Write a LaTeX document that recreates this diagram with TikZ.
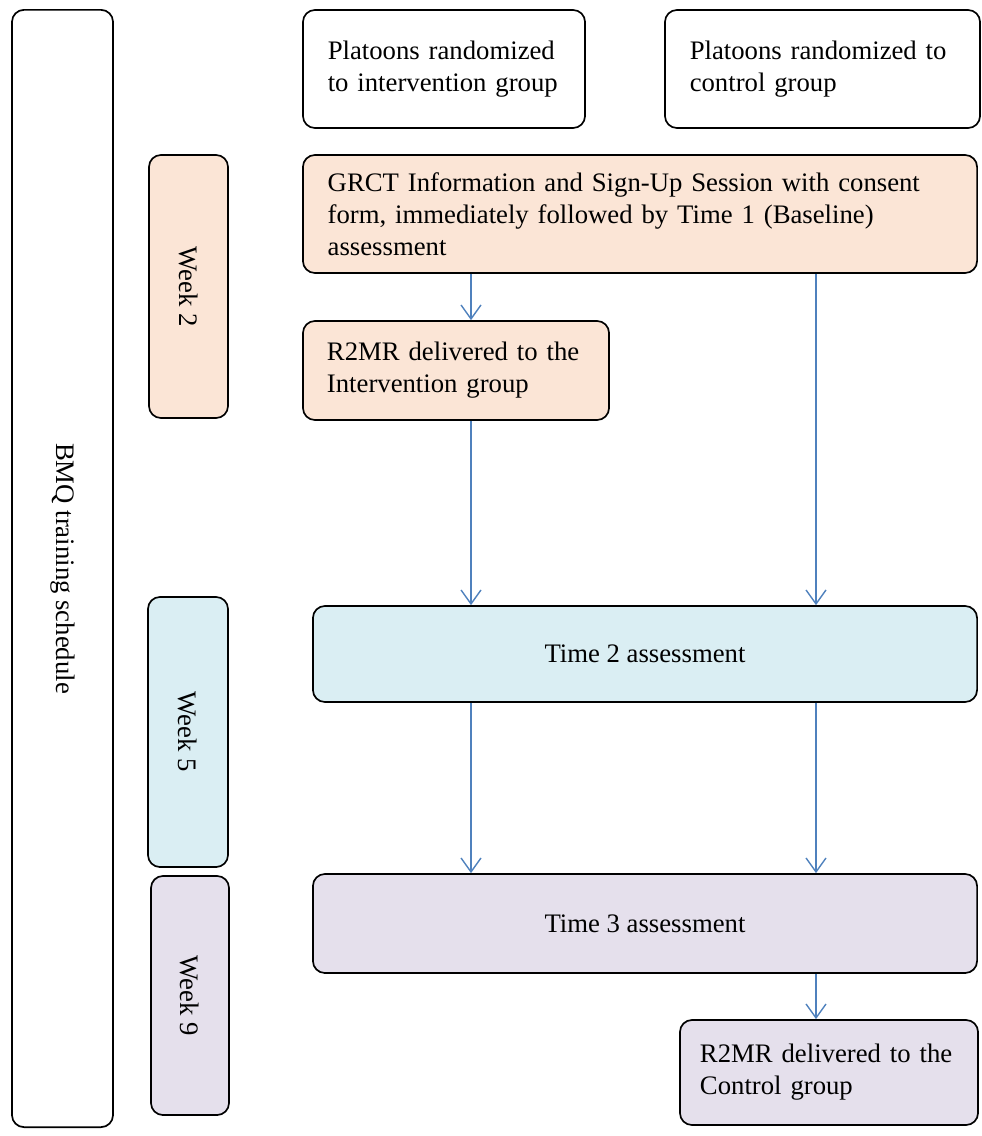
\documentclass[tikz,border=0pt]{standalone}
\usepackage{fontspec}
\setmainfont{Liberation Serif}
\usetikzlibrary{arrows.meta}

\definecolor{peach}{HTML}{FBE5D6}
\definecolor{paleblue}{HTML}{DAEEF3}
\definecolor{lavender}{HTML}{E5E0EC}
\definecolor{arrowblue}{HTML}{4F81BD}

\tikzstyle{box} = [
rectangle,
rounded corners=0.3cm,
draw=black,
line width=1.2pt,
inner sep=0pt,
font=\fontsize{19}{22.7}\selectfont
]
\tikzstyle{textbox} = [
box,
align=left,
inner xsep=0.62cm
]
\tikzstyle{centerbox} = [
box,
align=center
]
\tikzstyle{weekbox} = [
box,
rotate=-90,
align=center
]
\tikzstyle{arrow} = [
line width=1pt,
draw=arrowblue,
-{Straight Barb[length=0.35cm, width=0.5cm]}
]

\begin{document}
\begin{tikzpicture}[
x=0.025cm,
y=-0.025cm
]
\useasboundingbox (0,0) rectangle (981,1136);

% Schedule column
\node (bmq) [weekbox, minimum width=27.925cm, minimum height=2.525cm]
at (62.5,568.5) {BMQ training schedule};

\node (week2) [weekbox, fill=peach, minimum width=6.575cm, minimum height=1.975cm]
at (188.5,286.5) {Week 2};

\node (week5) [weekbox, fill=paleblue, minimum width=6.75cm, minimum height=2cm]
at (188,732) {Week 5};

\node (week9) [weekbox, fill=lavender, minimum width=5.975cm, minimum height=1.95cm]
at (190,995.5) {Week 9};

% Groups
\node (platI) [textbox, text width=5.81cm, minimum height=2.95cm]
at (444,69) {Platoons randomized\\to intervention group};

\node (platC) [textbox, text width=6.635cm, minimum height=2.95cm]
at (822.5,69) {Platoons randomized to\\control group};

% Steps
\node (grct) [textbox, fill=peach, text width=15.61cm, minimum height=2.95cm]
at (640,214) {GRCT Information and Sign-Up Session with consent\\form, immediately followed by Time 1 (Baseline)\\assessment};

\node (r2mrI) [textbox, fill=peach, inner xsep=0.6cm, text width=6.45cm, minimum height=2.475cm]
at (456,370.5) {R2MR delivered to the\\Intervention group};

\node (time2) [centerbox, fill=paleblue, minimum width=16.6cm, minimum height=2.4cm]
at (645,654) {Time 2 assessment};

\node (time3) [centerbox, fill=lavender, minimum width=16.6cm, minimum height=2.475cm]
at (645,923.5) {Time 3 assessment};

\node (r2mrC) [textbox, fill=lavender, inner xsep=0.5cm, text width=6.45cm, minimum height=2.625cm]
at (829,1072.5) {R2MR delivered to the\\Control group};

% Arrow columns
\coordinate (lcol) at (471,0);
\coordinate (rcol) at (816,0);

% Arrows
\draw [arrow] (grct.south -| lcol) -- (r2mrI.north -| lcol);
\draw [arrow] (r2mrI.south -| lcol) -- (time2.north -| lcol);
\draw [arrow] (grct.south -| rcol) -- (time2.north -| rcol);
\draw [arrow] (time2.south -| lcol) -- (time3.north -| lcol);
\draw [arrow] (time2.south -| rcol) -- (time3.north -| rcol);
\draw [arrow] (time3.south -| rcol) -- (r2mrC.north -| rcol);

\end{tikzpicture}
\end{document}
